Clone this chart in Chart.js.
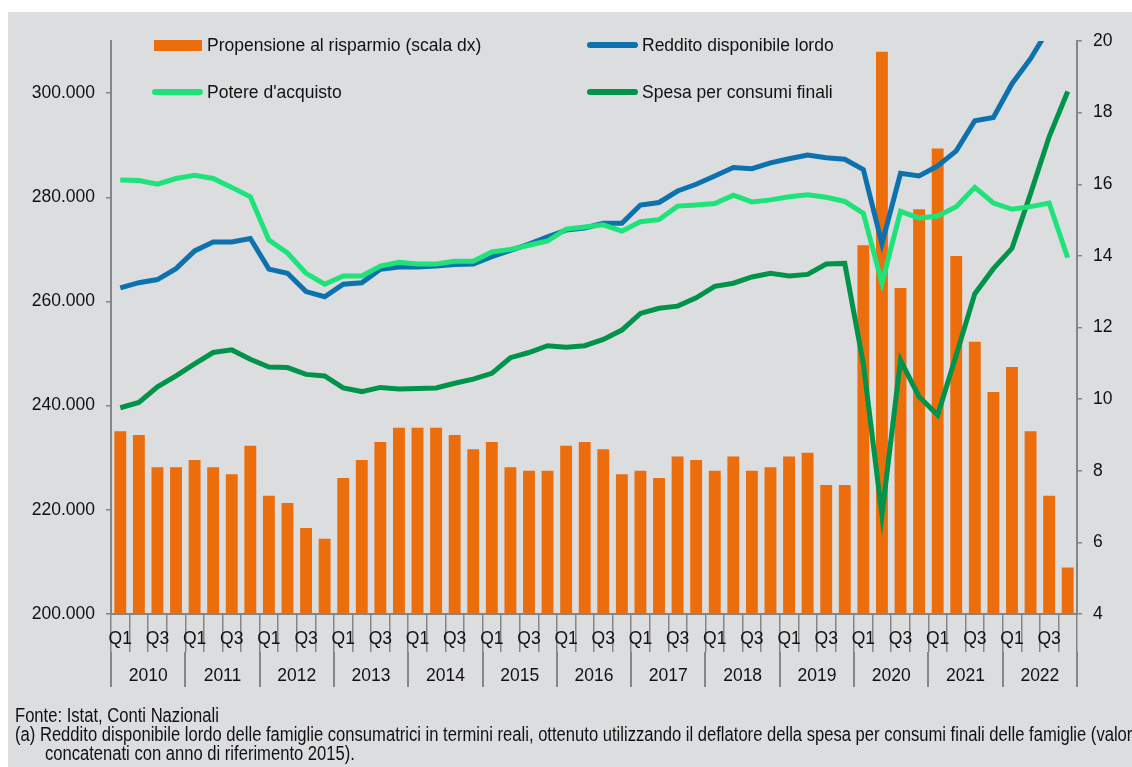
<!DOCTYPE html>
<html>
<head>
<meta charset="utf-8">
<script src="https://cdn.jsdelivr.net/npm/chart.js@4/dist/chart.umd.min.js"></script>
<style>
    html, body { margin: 0; padding: 0; background: #fff; }
    #wrap { position: relative; width: 1132px; height: 767px; overflow: hidden; }
    #bg { position: absolute; left: 8px; top: 12px; right: 0; bottom: 0; background: #dcdddf; }
    #chart { position: absolute; left: 0; top: 0; }
    .leg { position: absolute; height: 24px; display: flex; align-items: center; white-space: nowrap;
           font: 17.5px "Liberation Sans", Arial, sans-serif; color: #111; }
    .sw-bar { width: 48px; height: 11px; margin: 0 5px 0 2px; }
    .sw-line { width: 51px; height: 6px; border-radius: 3px; margin-right: 4px; }
    #note { position: absolute; left: 15px; top: 706px; font: 20px "Liberation Sans", Arial, sans-serif;
            line-height: 19px; color: #111; white-space: nowrap; transform: scaleX(0.83); transform-origin: 0 0; }
    #note .ind { padding-left: 36px; }
</style>
</head>
<body>
<div id="wrap">
    <div id="bg"></div>
    <canvas id="chart" width="1132" height="767"></canvas>
    <div id="legend"></div>
    <div id="note">
        <div>Fonte: Istat, Conti Nazionali</div>
        <div>(a) Reddito disponibile lordo delle famiglie consumatrici in termini reali, ottenuto utilizzando il deflatore della spesa per consumi finali delle famiglie (valori</div>
        <div class="ind">concatenati con anno di riferimento 2015).</div>
    </div>
</div>
<script>
// dati trimestrali 2010 Q1 - 2022 Q4
var anni        =   [2010, 2011, 2012, 2013, 2014, 2015, 2016, 2017, 2018, 2019, 2020, 2021, 2022];
var trimestri   =   ['Q1', 'Q2', 'Q3', 'Q4'];
var etichetteTrimestri = ['Q1', '', 'Q3', ''];

// tick degli assi
var tickSinistra = [200000, 220000, 240000, 260000, 280000, 300000];
var tickDestra   = [4, 6, 8, 10, 12, 14, 16, 18, 20];

// propensione al risparmio (%, scala dx)
var propensione = [
    9.1, 9.0, 8.1, 8.1,   8.3, 8.1, 7.9, 8.7,   7.3, 7.1, 6.4, 6.1,   7.8, 8.3, 8.8, 9.2,
    9.2, 9.2, 9.0, 8.6,   8.8, 8.1, 8.0, 8.0,   8.7, 8.8, 8.6, 7.9,   8.0, 7.8, 8.4, 8.3,
    8.0, 8.4, 8.0, 8.1,   8.4, 8.5, 7.6, 7.6,   14.3, 19.7, 13.1, 15.3,   17.0, 14.0, 11.6, 10.2,
    10.9, 9.1, 7.3, 5.3
];

var reddito = [
    262600, 263600, 264200, 266300, 269700, 271400, 271400, 272100, 266200, 265400, 261900, 260900,
    263300, 263600, 266200, 266600, 266600, 266800, 267100, 267200, 268600, 269800, 271000, 272400,
    273700, 274100, 275000, 275000, 278500, 279000, 281200, 282500, 284100, 285700, 285500, 286600,
    287400, 288100, 287600, 287300, 285300, 271100, 284600, 284100, 286000, 288900, 294700, 295300,
    301800, 306600, 312500, 316500
];

var potere = [
    283300, 283200, 282500, 283600, 284200, 283600, 281900, 280100, 271800, 269300, 265400, 263300,
    264900, 264900, 266800, 267500, 267200, 267200, 267700, 267700, 269500, 270000, 270800, 271600,
    273900, 274300, 274700, 273500, 275300, 275700, 278300, 278500, 278800, 280400, 279100, 279500,
    280100, 280500, 280000, 279200, 276900, 263500, 277300, 276000, 276400, 278200, 281900, 278900,
    277700, 278200, 278900, 268400
];

var spesa = [
    239600, 240600, 243600, 245700, 248000, 250200, 250700, 248900, 247400, 247300, 246000, 245700,
    243400, 242700, 243500, 243200, 243300, 243400, 244300, 245100, 246200, 249200, 250200, 251500,
    251200, 251500, 252700, 254500, 257700, 258700, 259100, 260700, 262900, 263500, 264700, 265400,
    264900, 265200, 267200, 267300, 248000, 219000, 248700, 241700, 238200, 249700, 261500, 266300,
    270200, 280700, 291600, 300300
];

var ARANCIO     =   '#ec6d0b';
var BLU         =   '#0b72ae';
var VERDE_CH    =   '#1ee27a';
var VERDE_SC    =   '#00934a';
var GRIGIO      =   '#858585';

var categorie = [];
var etichetteAnni = [];
anni.forEach(a => {
    trimestri.forEach((q, i) => {
        categorie.push(a + ' ' + q);
        etichetteAnni.push(i === 1 ? String(a) : '');
    });
});

function formatMigliaia(v) {
    return String(v).replace(/\B(?=(\d{3})+(?!\d))/g, '.');
}

Chart.defaults.font.family = '"Liberation Sans", Arial, sans-serif';
Chart.defaults.font.size = 17.5;
Chart.defaults.color = '#111';

var lineaBase = { type: 'line', yAxisID: 'y', borderWidth: 5, pointRadius: 0, tension: 0, clip: 0 };

var chart = new Chart(document.getElementById('chart'), {
    type: 'bar',
    data: {
        labels: categorie,
        datasets: [
            { type: 'bar', label: 'Propensione al risparmio (scala dx)', data: propensione, yAxisID: 'y1',
              backgroundColor: ARANCIO, barPercentage: 0.64, categoryPercentage: 1, order: 3 },
            Object.assign({ label: 'Reddito disponibile lordo', data: reddito, borderColor: BLU, order: 2 }, lineaBase),
            Object.assign({ label: "Potere d'acquisto", data: potere, borderColor: VERDE_CH, order: 0 }, lineaBase),
            Object.assign({ label: 'Spesa per consumi finali', data: spesa, borderColor: VERDE_SC, order: 1 }, lineaBase)
        ]
    },
    options: {
        responsive: false,
        animation: false,
        layout: { padding: { top: 41, left: 0, right: 0, bottom: 65 } },
        plugins: { legend: { display: false }, tooltip: { enabled: false } },
        scales: {
            x: {
                weight: 0,
                offset: true,
                grid: { offset: true, drawOnChartArea: false, tickLength: 38, color: GRIGIO, lineWidth: 1.5 },
                border: { color: GRIGIO, width: 2 },
                ticks: { autoSkip: false, maxRotation: 0, padding: -23,
                         callback: (v, i) => etichetteTrimestri[i % 4] },
                afterFit: s => { s.height = 38; }
            },
            x2: {
                type: 'category',
                position: 'bottom',
                weight: 1,
                labels: etichetteAnni,
                offset: true,
                grid: {
                    offset: true, drawOnChartArea: false, tickLength: 35, lineWidth: 2,
                    color: ctx => (ctx.index === undefined || ctx.index % 4 === 0) ? GRIGIO : 'rgba(0,0,0,0)'
                },
                border: { display: false },
                ticks: { autoSkip: false, maxRotation: 0, padding: -21.5, labelOffset: 9.3 },
                afterFit: s => { s.height = 50; }
            },
            y: {
                position: 'left',
                min: 200000,
                max: 310000,
                afterBuildTicks: s => { s.ticks = tickSinistra.map(v => ({ value: v })); },
                ticks: { padding: 11, callback: v => formatMigliaia(v) },
                grid: { drawOnChartArea: false, tickLength: 5, color: GRIGIO, lineWidth: 1.5 },
                border: { color: GRIGIO, width: 2 },
                afterFit: s => { s.width = 111; }
            },
            y1: {
                position: 'right',
                min: 4,
                max: 20,
                afterBuildTicks: s => { s.ticks = tickDestra.map(v => ({ value: v })); },
                ticks: { padding: 11 },
                grid: { drawOnChartArea: false, tickLength: 5, color: GRIGIO, lineWidth: 1.5 },
                border: { color: GRIGIO, width: 2 },
                afterFit: s => { s.width = 55; }
            }
        }
    }
});

// legenda 2x2 come nell'originale
var posLegenda = [[152, 33], [587, 33], [152, 80], [587, 80]];
var boxLegenda = document.getElementById('legend');
chart.data.datasets.forEach((ds, i) => {
    var item = document.createElement('div');
    item.className = 'leg';
    item.style.left = posLegenda[i][0] + 'px';
    item.style.top = posLegenda[i][1] + 'px';
    var sw = document.createElement('span');
    if (ds.type === 'bar') {
        sw.className = 'sw-bar';
        sw.style.background = ds.backgroundColor;
    } else {
        sw.className = 'sw-line';
        sw.style.background = ds.borderColor;
    }
    var txt = document.createElement('span');
    txt.textContent = ds.label;
    item.appendChild(sw);
    item.appendChild(txt);
    boxLegenda.appendChild(item);
});
</script>
</body>
</html>
